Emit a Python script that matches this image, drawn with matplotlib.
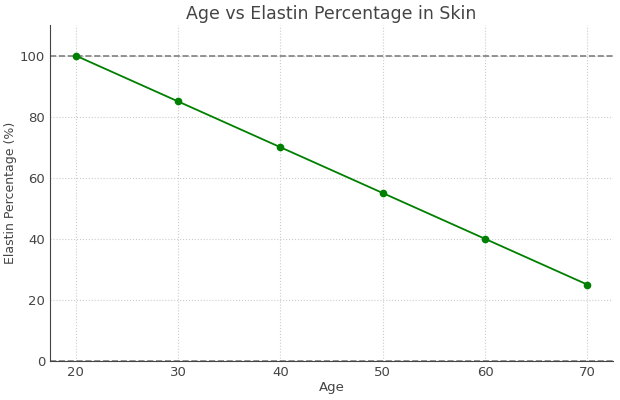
import matplotlib
matplotlib.use("Agg")
import matplotlib.pyplot as plt

ages = [20, 30, 40, 50, 60, 70]
elastin = [100, 85, 70, 55, 40, 25]

textColor = "#444444"
plt.rcParams['font.family'] = 'DejaVu Sans'

fig = plt.figure(figsize=(6.2, 4.0), dpi=100)
ax = fig.add_axes([0.0806, 0.0975, 0.9081, 0.84])

ax.plot(ages, elastin, color="green", marker="o", markersize=4.5, linewidth=1.3, zorder=3)
ax.axhline(100, color="gray", linestyle="--", linewidth=1.2)
ax.axhline(0, color="gray", linestyle="--", linewidth=1.2)

ax.set_ylim(0, 110)
ax.set_yticks([0, 20, 40, 60, 80, 100])
ax.set_xticks(ages)
ax.grid(True, linestyle=":", color="#cccccc", linewidth=0.8)

ax.set_title("Age vs Elastin Percentage in Skin", fontsize=12.5, color=textColor, pad=4)
ax.set_xlabel("Age", fontsize=9.5, color=textColor, labelpad=1.5)
ax.set_ylabel("Elastin Percentage (%)", fontsize=9, color=textColor, labelpad=2)
ax.tick_params(labelsize=9.5, colors=textColor, length=0, pad=3.5)

for side in ["top", "right"]:
    ax.spines[side].set_visible(False)
for side in ["left", "bottom"]:
    ax.spines[side].set_color(textColor)

fig.savefig("out.png", dpi=100)
